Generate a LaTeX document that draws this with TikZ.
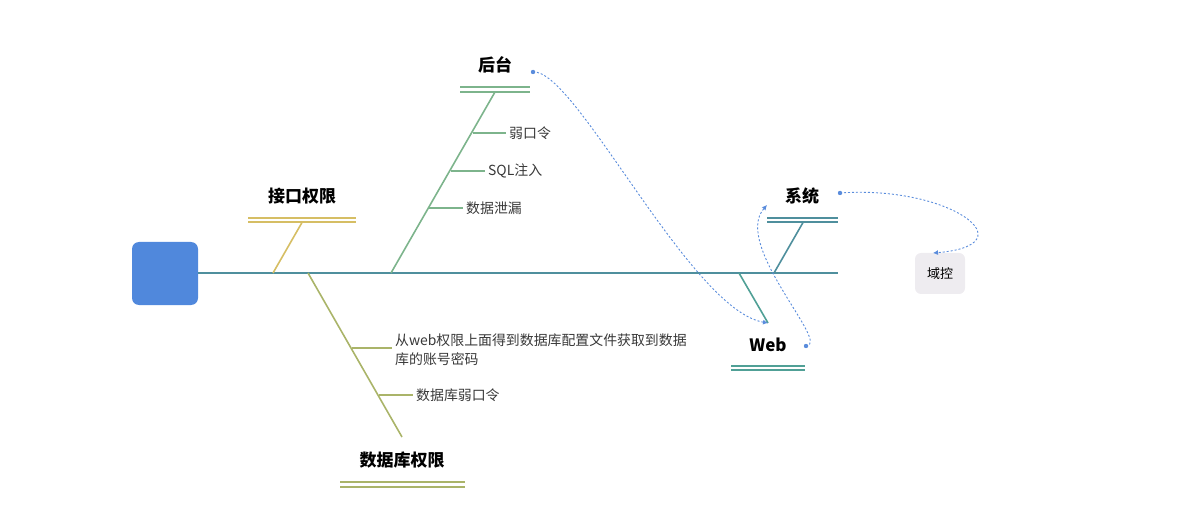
\documentclass[tikz,border=0pt]{standalone}
\usepackage{fontspec}
\setmainfont{Noto Sans CJK SC}
\usepackage{xcolor}
\usepackage{tikz}
\usetikzlibrary{arrows.meta}

\definecolor{headblue}{RGB}{80,136,220}
\definecolor{spinecol}{RGB}{79,143,157}
\definecolor{goldcol}{RGB}{214,190,100}
\definecolor{greencol}{RGB}{125,180,140}
\definecolor{olivecol}{RGB}{170,180,105}
\definecolor{tealcol}{RGB}{80,160,150}
\definecolor{linkblue}{RGB}{90,140,220}
\definecolor{boxgray}{RGB}{238,236,240}

\tikzset{
  boneTitle/.style={font=\fontsize{17}{20}\selectfont\bfseries, text=black},
  twigText/.style={font=\fontsize{13.9}{19}\selectfont, text=black!78, inner sep=3pt, anchor=west, align=left},
  boneBar/.style={line width=2.1pt, double=white, double distance=2.4pt},
  linkArrow/.style={draw=linkblue, line width=0.9pt, dash pattern=on 2pt off 2pt, -{Latex[length=5pt,width=5pt]}},
  linkDot/.style={fill=linkblue}
}

\begin{document}
\begin{tikzpicture}[x=1pt,y=-1pt]
            \useasboundingbox (0,0) rectangle (1198,526);

            % head and spine
            \node[shape=rectangle, rounded corners=7pt, fill=headblue, minimum width=66pt, minimum height=63pt, inner sep=0pt] (head) at (165,273.5) {};
            \coordinate (spineEnd) at (838,273);
            \path [line width=2pt, color=spinecol] (head.east |- spineEnd) edge (spineEnd);

            % 接口权限
            \node[boneTitle] (jk) at (302,196) {接口权限};
            \coordinate (jkL) at (248,220);
            \coordinate (jkR) at (356,220);
            \coordinate (jkTop) at (302,222.5);
            \coordinate (jkFoot) at (273,273);
            \draw [boneBar, draw=goldcol] (jkL) -- (jkR);
            \path [line width=1.6pt, color=goldcol] (jkTop) edge (jkFoot);

            % 后台
            \node[boneTitle] (ht) at (495,65) {后台};
            \coordinate (htL) at (460,89.7);
            \coordinate (htR) at (530,89.7);
            \coordinate (htTop) at (495,92);
            \coordinate (htFoot) at (391,273);
            \draw [boneBar, draw=greencol] (htL) -- (htR);
            \path [line width=1.6pt, color=greencol] (htTop) edge (htFoot);
            \coordinate (ht1) at (472.5,133);
            \coordinate (ht2) at (450.5,171);
            \coordinate (ht3) at (429,208);
            \node[twigText] (ruo) at (506,133) {弱口令};
            \node[twigText] (sql) at (485,171) {SQL注入};
            \node[twigText] (leak) at (463,208) {数据泄漏};
            \path [line width=1.6pt, color=greencol] (ht1) edge (ruo.west);
            \path [line width=1.6pt, color=greencol] (ht2) edge (sql.west);
            \path [line width=1.6pt, color=greencol] (ht3) edge (leak.west);

            % 数据库权限
            \node[boneTitle] (db) at (402,460) {数据库权限};
            \coordinate (dbL) at (340,484.3);
            \coordinate (dbR) at (465,484.3);
            \coordinate (dbTop) at (308,273);
            \coordinate (dbFoot) at (402,437);
            \draw [boneBar, draw=olivecol] (dbL) -- (dbR);
            \path [line width=1.6pt, color=olivecol] (dbTop) edge (dbFoot);
            \coordinate (db1) at (351.5,348);
            \coordinate (db2) at (378.5,395);
            \node[twigText] (cfg) at (392,349.5) {从web权限上面得到数据库配置文件获取到数据\\库的账号密码};
            \node[twigText] (dbweak) at (413,395) {数据库弱口令};
            \path [line width=1.6pt, color=olivecol] (db1) edge (cfg.west |- db1);
            \path [line width=1.6pt, color=olivecol] (db2) edge (dbweak.west);

            % 系统
            \node[boneTitle] (sys) at (802,196) {系统};
            \coordinate (sysL) at (767,220);
            \coordinate (sysR) at (838,220);
            \coordinate (sysTop) at (803,222.5);
            \coordinate (sysFoot) at (774,273);
            \draw [boneBar, draw=spinecol] (sysL) -- (sysR);
            \path [line width=1.6pt, color=spinecol] (sysTop) edge (sysFoot);

            % Web
            \node[boneTitle] (web) at (768,345) {Web};
            \coordinate (webL) at (731,368);
            \coordinate (webR) at (805,368);
            \coordinate (webFoot) at (739,273);
            \coordinate (webTip) at (768,323);
            \draw [boneBar, draw=tealcol] (webL) -- (webR);
            \path [line width=1.6pt, color=tealcol] (webFoot) edge (webTip);

            % 域控
            \node[shape=rectangle, rounded corners=6pt, fill=boxgray, minimum width=50pt, minimum height=41pt, inner sep=0pt, font=\fontsize{13}{15}\selectfont] (dk) at (940,273.5) {域控};

            % links
            \coordinate (htOut) at (533,72);
            \coordinate (webOut) at (806,346);
            \coordinate (sysIn) at (767,205);
            \coordinate (sysOut) at (840,193);
            \coordinate (dkIn) at (933,253);
            \draw [linkArrow] (htOut) .. controls (575,68) and (690,310) .. (webTip);
            \draw [linkArrow] (webOut) .. controls (832,345) and (732,245) .. (sysIn);
            \draw [linkArrow] (sysOut) .. controls (950,185) and (1030,245) .. (dkIn);
            \fill [linkDot] (htOut) circle (2.2pt);
            \fill [linkDot] (webOut) circle (2.2pt);
            \fill [linkDot] (sysOut) circle (2.2pt);
        \end{tikzpicture}
\end{document}
